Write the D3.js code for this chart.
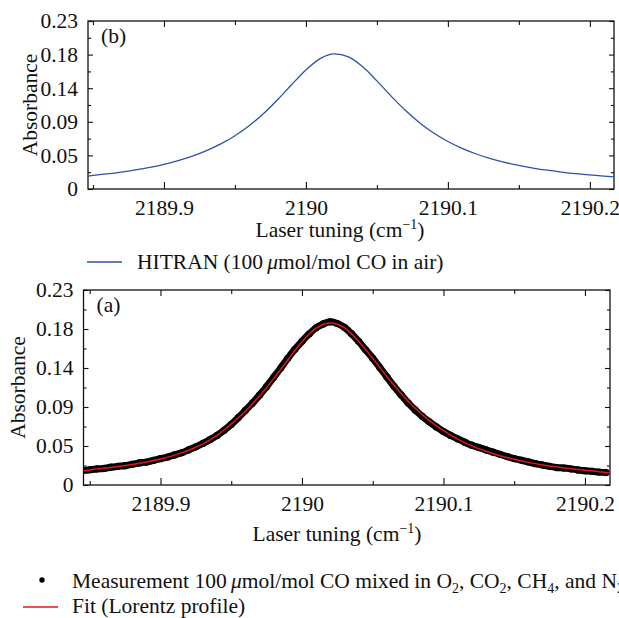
<!DOCTYPE html>
<html lang="en">
<head>
	<meta charset="UTF-8">
	<title>CO absorbance</title>
	<script src="https://cdn.jsdelivr.net/npm/d3@7"></script>
	<style>
		body { margin: 0; background: #fff; }
		svg text { font-family: "Liberation Serif", "DejaVu Serif", serif; fill: #111; }
	</style>
</head>
<body>
	<div id="vis"></div>

	<script>
		var width = 619;
		var height = 618;

		// HITRAN curve, panel (b)
		var hitranX = [2189.8465, 2189.85, 2189.86, 2189.87, 2189.88, 2189.89, 2189.90, 2189.91, 2189.92, 2189.93,
			2189.94, 2189.95, 2189.96, 2189.97, 2189.98, 2189.99, 2190.00, 2190.01, 2190.02, 2190.03,
			2190.04, 2190.05, 2190.06, 2190.07, 2190.08, 2190.09, 2190.10, 2190.11, 2190.12, 2190.13,
			2190.14, 2190.15, 2190.16, 2190.17, 2190.18, 2190.19, 2190.20, 2190.21, 2190.217];
		var hitranY = [0.0178, 0.0186, 0.0207, 0.0232, 0.0262, 0.0297, 0.0338, 0.0389, 0.0450, 0.0525,
			0.0617, 0.0730, 0.0866, 0.1030, 0.1222, 0.1430, 0.1630, 0.1785, 0.1850, 0.1808,
			0.1672, 0.1480, 0.1272, 0.1078, 0.0908, 0.0766, 0.0650, 0.0556, 0.0479, 0.0416,
			0.0365, 0.0322, 0.0287, 0.0257, 0.0232, 0.0210, 0.0192, 0.0176, 0.0166];

		// Lorentz fit, panel (a)
		var fitX = [2189.8456, 2189.85, 2189.86, 2189.87, 2189.88, 2189.89, 2189.90, 2189.91, 2189.92, 2189.93,
			2189.94, 2189.95, 2189.96, 2189.97, 2189.98, 2189.99, 2190.00, 2190.01, 2190.02, 2190.03,
			2190.04, 2190.05, 2190.06, 2190.07, 2190.08, 2190.09, 2190.10, 2190.11, 2190.12, 2190.13,
			2190.14, 2190.15, 2190.16, 2190.17, 2190.18, 2190.19, 2190.20, 2190.21, 2190.2177];
		var fitY = [0.0165, 0.0178, 0.0197, 0.0218, 0.0243, 0.0272, 0.0307, 0.0352, 0.0410, 0.0485,
			0.0585, 0.0720, 0.0870, 0.1050, 0.1255, 0.1475, 0.1690, 0.1850, 0.1912, 0.1855,
			0.1695, 0.1495, 0.1280, 0.1080, 0.0905, 0.0760, 0.0640, 0.0542, 0.0462, 0.0398,
			0.0346, 0.0303, 0.0267, 0.0237, 0.0212, 0.0191, 0.0173, 0.0157, 0.0140];

		// measured points, panel (a)
		var measX = [2189.845, 2189.850, 2189.855, 2189.860, 2189.865, 2189.870, 2189.875, 2189.880, 2189.885, 2189.890,
			2189.895, 2189.900, 2189.905, 2189.910, 2189.915, 2189.920, 2189.925, 2189.930, 2189.935, 2189.940,
			2189.945, 2189.950, 2189.955, 2189.960, 2189.965, 2189.970, 2189.975, 2189.980, 2189.985, 2189.990,
			2189.995, 2190.000, 2190.005, 2190.010, 2190.015, 2190.020, 2190.025, 2190.030, 2190.035, 2190.040,
			2190.045, 2190.050, 2190.055, 2190.060, 2190.065, 2190.070, 2190.075, 2190.080, 2190.085, 2190.090,
			2190.095, 2190.100, 2190.105, 2190.110, 2190.115, 2190.120, 2190.125, 2190.130, 2190.135, 2190.140,
			2190.145, 2190.150, 2190.155, 2190.160, 2190.165, 2190.170, 2190.175, 2190.180, 2190.185, 2190.190,
			2190.195, 2190.200, 2190.205, 2190.210, 2190.215];
		var measY = [0.0170, 0.0180, 0.0190, 0.0195, 0.0210, 0.0220, 0.0228, 0.0245, 0.0260, 0.0270,
			0.0290, 0.0310, 0.0330, 0.0355, 0.0380, 0.0415, 0.0450, 0.0490, 0.0535, 0.0585,
			0.0645, 0.0715, 0.0795, 0.0880, 0.0965, 0.1060, 0.1160, 0.1270, 0.1380, 0.1495,
			0.1600, 0.1695, 0.1780, 0.1855, 0.1900, 0.1925, 0.1905, 0.1860, 0.1785, 0.1695,
			0.1595, 0.1495, 0.1385, 0.1275, 0.1165, 0.1065, 0.0970, 0.0885, 0.0810, 0.0745,
			0.0685, 0.0630, 0.0585, 0.0545, 0.0505, 0.0470, 0.0442, 0.0415, 0.0388, 0.0362,
			0.0335, 0.0312, 0.0292, 0.0272, 0.0252, 0.0236, 0.0220, 0.0206, 0.0200, 0.0190,
			0.0178, 0.0168, 0.0162, 0.0152, 0.0146];

		// ticks
		var xMajor = [2189.9, 2190, 2190.1, 2190.2];
		var xMajorLabels = ["2189.9", "2190", "2190.1", "2190.2"];
		var xMinor = [2189.85, 2189.95, 2190.05, 2190.15];
		var yMajor = [0, 0.046, 0.092, 0.138, 0.184, 0.23];
		var yMajorLabels = ["0", "0.05", "0.09", "0.14", "0.18", "0.23"];
		var yMinor = [0.023, 0.069, 0.115, 0.161, 0.207];

		var fontSize = 21.5;
		var subSize = 14;

		var svg = d3.select("#vis").append("svg")
				.attr("width", width)
				.attr("height", height);

		function drawPanel(p) {
			var x = d3.scaleLinear().domain(p.xDomain).range([p.left, p.right]);
			var y = d3.scaleLinear().domain([0, 0.23]).range([p.bottom, p.top]);

			var g = svg.append("g");

			// clip so the data stays inside the box
			svg.append("clipPath").attr("id", p.id + "-clip")
				.append("rect")
				.attr("x", p.left).attr("y", p.top)
				.attr("width", p.right - p.left).attr("height", p.bottom - p.top);

			var xLab = function(d) { return xMajorLabels[xMajor.indexOf(d)]; };
			var yLab = function(d) { return yMajorLabels[yMajor.indexOf(d)]; };

			// bottom axis with labels
			g.append("g").attr("transform", "translate(0," + p.bottom + ")")
				.call(d3.axisBottom(x).tickValues(xMajor).tickFormat(xLab).tickSize(-7).tickPadding(11));
			g.append("g").attr("transform", "translate(0," + p.bottom + ")")
				.call(d3.axisBottom(x).tickValues(xMinor).tickFormat("").tickSize(-4));
			// top axis, ticks only
			g.append("g").attr("transform", "translate(0," + p.top + ")")
				.call(d3.axisTop(x).tickValues(xMajor).tickFormat("").tickSize(-6));
			g.append("g").attr("transform", "translate(0," + p.top + ")")
				.call(d3.axisTop(x).tickValues(xMinor).tickFormat("").tickSize(-4));
			// left axis with labels
			g.append("g").attr("transform", "translate(" + p.left + ",0)")
				.call(d3.axisLeft(y).tickValues(yMajor).tickFormat(yLab).tickSize(-5).tickPadding(10));
			g.append("g").attr("transform", "translate(" + p.left + ",0)")
				.call(d3.axisLeft(y).tickValues(yMinor).tickFormat("").tickSize(-3));
			// right axis, ticks only
			g.append("g").attr("transform", "translate(" + p.right + ",0)")
				.call(d3.axisRight(y).tickValues(yMajor).tickFormat("").tickSize(-5));
			g.append("g").attr("transform", "translate(" + p.right + ",0)")
				.call(d3.axisRight(y).tickValues(yMinor).tickFormat("").tickSize(-3));

			g.selectAll(".domain").remove();
			g.selectAll(".tick line").attr("stroke", "#111").attr("stroke-width", 1.1);
			g.selectAll(".tick text")
				.style("font-family", "'Liberation Serif', serif")
				.style("font-size", fontSize + "px")
				.attr("fill", "#111");

			// frame
			g.append("rect")
				.attr("x", p.left).attr("y", p.top)
				.attr("width", p.right - p.left).attr("height", p.bottom - p.top)
				.attr("fill", "none").attr("stroke", "#111").attr("stroke-width", 1.3);

			// y label
			g.append("text")
				.attr("transform", "translate(" + p.ylabelX + "," + ((p.top + p.bottom) / 2) + ") rotate(-90)")
				.attr("text-anchor", "middle")
				.style("font-size", fontSize + "px")
				.text("Absorbance");

			// x label with superscript
			var xl = g.append("text")
				.attr("x", p.xlabelX).attr("y", p.xlabelY)
				.attr("text-anchor", "middle")
				.style("font-size", fontSize + "px");
			xl.append("tspan").text("Laser tuning (cm");
			xl.append("tspan").attr("dy", -8).style("font-size", subSize + "px").text("\u22121");
			xl.append("tspan").attr("dy", 8).text(")");

			// panel tag
			g.append("text")
				.attr("x", p.left + 13).attr("y", p.top + 22)
				.style("font-size", fontSize + "px")
				.text(p.tag);

			var plot = svg.append("g").attr("clip-path", "url(#" + p.id + "-clip)");
			return { x: x, y: y, plot: plot };
		}

		// panel (b): HITRAN
		var pb = drawPanel({ id: "b", tag: "(b)", left: 88, right: 614, top: 21, bottom: 189,
			xDomain: [2189.8465, 2190.217], ylabelX: 37, xlabelX: 340, xlabelY: 237 });

		var lineB = d3.line()
			.x(function(d, i) { return pb.x(hitranX[i]); })
			.y(function(d) { return pb.y(d); })
			.curve(d3.curveMonotoneX);

		pb.plot.append("path")
			.datum(hitranY)
			.attr("d", lineB)
			.attr("fill", "none")
			.attr("stroke", "#2f4fae")
			.attr("stroke-width", 1.3);

		// legend for (b)
		svg.append("line")
			.attr("x1", 87).attr("x2", 122).attr("y1", 262).attr("y2", 262)
			.attr("stroke", "#2f4fae").attr("stroke-width", 1.3);
		var lb = svg.append("text").attr("x", 137).attr("y", 269).style("font-size", fontSize + "px");
		lb.append("tspan").text("HITRAN (100\u2009");
		lb.append("tspan").style("font-style", "italic").text("\u03bc");
		lb.append("tspan").text("mol/mol CO in air)");

		// panel (a): measurement + fit
		var pa = drawPanel({ id: "a", tag: "(a)", left: 83.5, right: 610, top: 290, bottom: 485,
			xDomain: [2189.8456, 2190.2177], ylabelX: 25, xlabelX: 337, xlabelY: 541 });

		var lineMeas = d3.line()
			.x(function(d, i) { return pa.x(measX[i]); })
			.y(function(d) { return pa.y(d); })
			.curve(d3.curveMonotoneX);

		pa.plot.append("path")
			.datum(measY)
			.attr("d", lineMeas)
			.attr("fill", "none")
			.attr("stroke", "#000")
			.attr("stroke-width", 7)
			.attr("stroke-linejoin", "round");

		pa.plot.selectAll("circle.meas")
			.data(measY)
			.enter().append("circle")
			.attr("class", "meas")
			.attr("cx", function(d, i) { return pa.x(measX[i]); })
			.attr("cy", function(d) { return pa.y(d); })
			.attr("r", 3.6)
			.attr("fill", "#000");

		var lineFit = d3.line()
			.x(function(d, i) { return pa.x(fitX[i]); })
			.y(function(d) { return pa.y(d); })
			.curve(d3.curveMonotoneX);

		pa.plot.append("path")
			.datum(fitY)
			.attr("d", lineFit)
			.attr("fill", "none")
			.attr("stroke", "#e3141b")
			.attr("stroke-width", 1.5);

		// legend for (a)
		svg.append("circle").attr("cx", 42).attr("cy", 580).attr("r", 2.7).attr("fill", "#000");
		var lm = svg.append("text").attr("x", 72).attr("y", 588).style("font-size", fontSize + "px");
		lm.append("tspan").text("Measurement 100\u2009");
		lm.append("tspan").style("font-style", "italic").text("\u03bc");
		lm.append("tspan").text("mol/mol CO mixed in O");
		lm.append("tspan").attr("dy", 5).style("font-size", subSize + "px").text("2");
		lm.append("tspan").attr("dy", -5).text(", CO");
		lm.append("tspan").attr("dy", 5).style("font-size", subSize + "px").text("2");
		lm.append("tspan").attr("dy", -5).text(", CH");
		lm.append("tspan").attr("dy", 5).style("font-size", subSize + "px").text("4");
		lm.append("tspan").attr("dy", -5).text(", and N");
		lm.append("tspan").attr("dy", 5).style("font-size", subSize + "px").text("2");

		svg.append("line")
			.attr("x1", 23).attr("x2", 58).attr("y1", 607).attr("y2", 607)
			.attr("stroke", "#e3141b").attr("stroke-width", 1.5);
		svg.append("text").attr("x", 72).attr("y", 613).style("font-size", fontSize + "px")
			.text("Fit (Lorentz profile)");
	</script>
</body>
</html>
